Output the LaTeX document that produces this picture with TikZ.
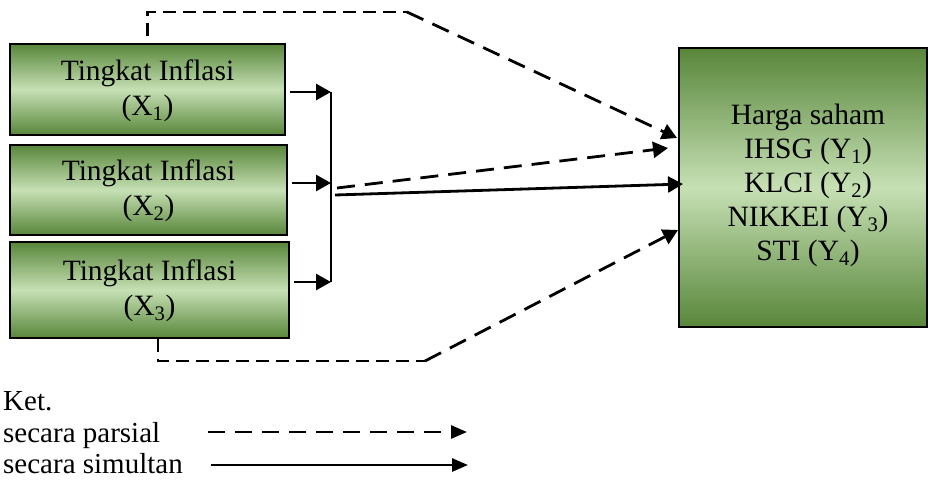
\documentclass[tikz,border=0pt]{standalone}
\usepackage{fontspec}
\setmainfont{Liberation Serif}
\usetikzlibrary{arrows.meta,calc}
\definecolor{gdark}{RGB}{88,134,58}
\definecolor{glight}{RGB}{198,224,180}
\begin{document}
\begin{tikzpicture}[x=1pt,y=-1pt,
  gbox/.style={draw=black,line width=1.5pt,top color=gdark,bottom color=gdark,middle color=glight,inner sep=0pt,align=center,font=\fontsize{29.5}{35}\selectfont},
  bigtip/.style={-{Triangle[length=15pt,width=16pt]}},
  smalltip/.style={-{Triangle[length=16pt,width=13pt]}},
  solidarr/.style={line width=2.8pt,bigtip},
  dashH/.style={line width=2.8pt,dash pattern=on 13pt off 7pt},
  dashD/.style={line width=2.8pt,dash pattern=on 18pt off 10pt},
  legtext/.style={anchor=base west,inner sep=0pt,font=\fontsize{29}{34}\selectfont}
]
\useasboundingbox (0,0) rectangle (928,482);

% boxes
\node[gbox,minimum width=275pt,minimum height=91pt] (x1) at (147.5,89.5) {Tingkat Inflasi\\(X\textsubscript{1})\\[-31pt]};
\node[gbox,minimum width=277pt,minimum height=90pt] (x2) at (148.5,190) {Tingkat Inflasi\\(X\textsubscript{2})\\[-31pt]};
\node[gbox,minimum width=279pt,minimum height=96pt] (x3) at (149.5,290) {Tingkat Inflasi\\(X\textsubscript{3})\\[-31pt]};
\node[gbox,minimum width=248pt,minimum height=279pt,font=\fontsize{29.5}{34}\selectfont] (y) at (803,187.5)
  {\hspace*{10pt}Harga saham\\\hspace*{10pt}IHSG (Y\textsubscript{1})\\\hspace*{10pt}KLCI (Y\textsubscript{2})\\\hspace*{10pt}NIKKEI (Y\textsubscript{3})\\\hspace*{10pt}STI (Y\textsubscript{4})\\[-24pt]};

% junction
\coordinate (j1) at (331,92);
\coordinate (j2) at (331,183);
\coordinate (j3) at (331,282);
\draw[solidarr,shorten <=4pt] (x1.east |- j1) -- (j1);
\draw[solidarr,shorten <=4pt] (x2.east |- j2) -- (j2);
\draw[solidarr,shorten <=4pt] (x3.east |- j3) -- (j3);
\draw[line width=1.6pt] (j1) -- (j3);

% simultaneous and partial from junction
\coordinate (s0) at (335,195);
\coordinate (p0) at (337,188);
\coordinate (ysol) at (683,184);
\coordinate (ypar) at (668,148);
\draw[solidarr] (s0) -- (ysol);
\draw[dashD,bigtip] (p0) -- (ypar);

% top dashed path
\coordinate (tc) at (407,12);
\coordinate (ytop) at (677,138);
\draw[dashH,shorten <=7pt] (x1.north) |- (tc);
\draw[dashD,bigtip] (tc) -- (ytop);

% bottom dashed path
\coordinate (bs) at ($(x3.south)+(8.5,0)$);
\coordinate (bc) at (425,361);
\coordinate (ybot) at (678,230);
\draw[dashH] (bs) |- (bc);
\draw[dashD,bigtip] (bc) -- (ybot);

% legend
\node[legtext] (ket) at (3,410) {Ket.};
\node[legtext] (lp) at (3,442) {secara parsial};
\node[legtext] (ls) at (3,473) {secara simultan};
\coordinate (lpa) at (208,432);
\coordinate (lpb) at (467,432);
\coordinate (lsa) at (211,465);
\coordinate (lsb) at (468,465);
\draw[line width=2.8pt,dash pattern=on 17pt off 10pt,smalltip] (lpa) -- (lpb);
\draw[line width=2.8pt,smalltip] (lsa) -- (lsb);
\end{tikzpicture}
\end{document}
